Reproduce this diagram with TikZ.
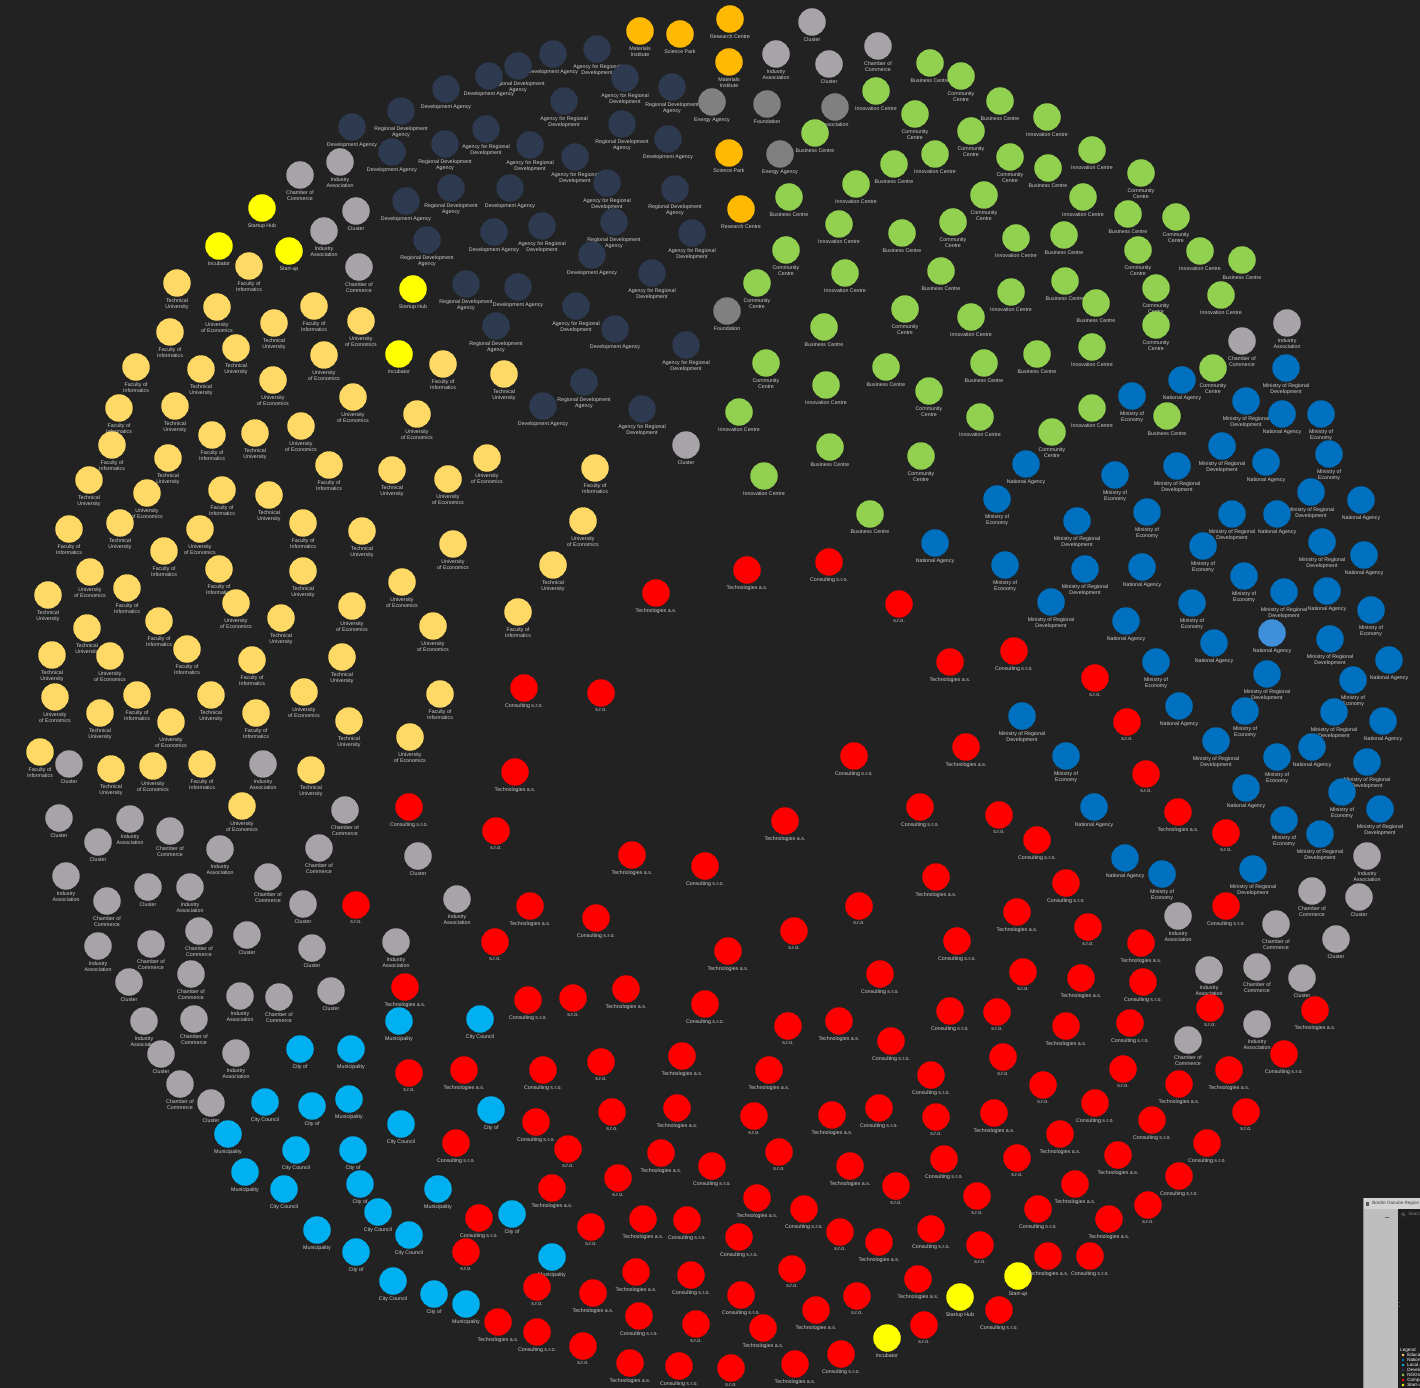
\documentclass[tikz,border=0pt]{standalone}
\usepackage{fontspec}
\setmainfont{Liberation Sans}
\usetikzlibrary{positioning}

\definecolor{canvas}{HTML}{222222}
\definecolor{labelgray}{HTML}{CDCDCD}
\definecolor{eduorange}{HTML}{FFD966}
\definecolor{resgold}{HTML}{FFB900}
\definecolor{startyellow}{HTML}{FFFF00}
\definecolor{devnavy}{HTML}{2E3A50}
\definecolor{ngogreen}{HTML}{92D050}
\definecolor{natblue}{HTML}{0070C0}
\definecolor{selblue}{HTML}{3F8FDA}
\definecolor{localcyan}{HTML}{00B0F0}
\definecolor{compred}{HTML}{FF0000}
\definecolor{othergray}{HTML}{A7A3A9}
\definecolor{darkgray}{HTML}{808080}
\definecolor{panelbar}{HTML}{D2D2D2}
\definecolor{panelside}{HTML}{BEBEBE}
\definecolor{paneldark}{HTML}{1E1E1E}

% one cluster of organisations: prefix, colour, labels (\or-separated), centres
\newcommand\orgcluster[4]{%
  \foreach \x/\y [count=\i] in {#4} {
    \node[orgdot, fill=#2] (#1\i) at (\x,\y) {};
    \pgfmathtruncatemacro{\k}{mod(\i,3)}
    \node[orglabel, below=0.3pt of #1\i] (#1lbl\i) {\ifcase\k #3\fi};
  }%
}

\begin{document}
\begin{tikzpicture}[
        x=0.02cm, y=-0.02cm,
        orgdot/.style={circle, inner sep=0pt, minimum size=0.55cm},
        orglabel/.style={text=labelgray, font=\fontsize{3}{3.4}\selectfont,
            align=center, inner sep=0.4pt},
        paneltext/.style={font=\fontsize{2.6}{3}\selectfont, anchor=west, inner sep=0pt}
    ]
    \useasboundingbox (0,0) rectangle (1420,1388);
    \fill[canvas] (0,0) rectangle (1420,1388);
    \clip (0,0) rectangle (1420,1388);

    % research centres
    \orgcluster{res}{resgold}{Research Centre\or Materials\\Institute\or Science Park}
        {640/31, 680/34, 730/19, 729/62, 729/153, 741/209}

    % start-ups
    \orgcluster{start}{startyellow}{Start-up\or Startup Hub\or Incubator}
        {262/208, 219/246, 289/251, 413/289, 399/354, 1018/1276, 960/1297, 887/1338}

    % development agencies
    \orgcluster{dev}{devnavy}{Regional Development\\Agency\or Development Agency\or Agency for Regional\\Development}
        {553/54, 597/49, 518/66, 489/76, 625/78, 672/87, 446/89, 564/101, 401/111,
         352/127, 486/129, 622/124, 668/139, 530/145, 445/144, 392/152, 575/157,
         451/188, 510/188, 607/183, 675/189, 406/201, 542/226, 614/222, 494/232,
         692/233, 427/240, 592/255, 652/273, 466/284, 518/287, 576/306, 496/326,
         615/329, 686/345, 584/382, 543/406, 642/409}

    % other organisations
    \orgcluster{oth}{othergray}{Chamber of\\Commerce\or Cluster\or Industry\\Association}
        {812/22, 776/54, 878/46, 829/64, 340/162, 300/175, 356/211, 324/231, 359/267,
         686/445, 1287/323, 1242/341,
         69/764, 263/764, 345/810, 59/818, 130/819, 170/831, 98/842, 220/849,
         319/848, 418/856, 66/876, 268/877, 148/887, 190/887, 107/901, 303/904,
         457/899, 199/931, 247/935, 98/946, 151/944, 312/948, 396/942, 191/974,
         129/982, 240/996, 279/997, 331/991, 144/1021, 194/1019, 161/1054,
         236/1053, 180/1084, 211/1103,
         1367/856, 1312/891, 1359/897, 1178/916, 1276/924, 1336/939, 1209/970,
         1257/967, 1302/978, 1257/1024, 1188/1040}

    \orgcluster{assoc}{darkgray}{Association\or Energy Agency\or Foundation}
        {712/102, 767/104, 835/107, 780/154, 727/311}

    % education and research
    \orgcluster{edu}{eduorange}{University\\of Economics\or Faculty of\\Informatics\or Technical\\University}
        {249/266, 177/283, 217/307, 314/306, 274/323, 361/321, 170/332, 236/348,
         324/355, 136/367, 201/369, 273/380, 443/364, 504/374, 353/397, 119/408,
         175/406, 417/414, 212/435, 255/433, 301/426, 112/445, 168/458, 487/458,
         329/465, 392/470, 448/479, 595/468, 89/480, 147/493, 222/490, 269/495,
         583/521, 69/529, 120/523, 200/529, 303/523, 362/531, 453/544, 164/551,
         553/565, 90/572, 219/569, 303/571, 402/582, 127/588, 48/595, 236/603,
         518/612, 281/618, 352/606, 159/621, 87/628, 433/626, 187/649, 52/655,
         110/656, 252/660, 342/657, 55/697, 137/695, 211/695, 304/692, 440/694,
         100/713, 171/722, 256/713, 349/721, 410/737, 40/752, 111/769, 153/766,
         202/764, 311/770, 242/806}

    % NGOs
    \orgcluster{ngo}{ngogreen}{Innovation Centre\or Business Centre\or Community\\Centre}
        {930/63, 961/76, 876/91, 1000/101, 915/114, 1047/117, 815/133, 971/131,
         935/154, 894/164, 1010/157, 1092/150, 1048/168, 1141/173, 856/184, 789/197,
         984/195, 1083/197, 1128/214, 1176/217, 839/224, 902/233, 953/222, 1016/238,
         1064/235, 1138/250, 1200/251, 1242/260, 786/250, 845/273, 941/271, 757/283,
         1011/292, 1065/281, 1156/288, 1221/295, 1096/303, 905/309, 971/317, 824/327,
         1156/325, 1092/347, 1037/354, 766/363, 826/385, 886/367, 929/391, 739/412,
         984/363, 1213/368, 1092/408, 1167/416, 1052/432, 980/417, 830/447, 921/456,
         764/476, 870/514}

    % national public authorities
    \orgcluster{nat}{natblue}{Ministry of\\Economy\or Ministry of Regional\\Development\or National Agency}
        {1286/368, 1182/380, 1132/396, 1246/401, 1282/414, 1321/414, 1222/446,
         1266/462, 1329/454, 1177/466, 1026/464, 1115/475, 1311/492, 1361/500,
         997/499, 1232/514, 1277/514, 1147/512, 1077/521, 935/543, 1203/546,
         1322/542, 1364/555, 1005/565, 1085/569, 1142/567, 1244/576, 1284/592,
         1327/591, 1371/610, 1051/602, 1126/621, 1192/603, 1330/639, 1214/643,
         1156/662, 1267/674, 1389/660, 1353/680, 1022/716, 1179/706, 1245/711,
         1334/712, 1383/721, 1066/756, 1216/741, 1312/747, 1277/757, 1367/762,
         1246/788, 1342/792, 1380/809, 1094/807, 1284/820, 1320/834, 1125/858,
         1162/874, 1253/869}
    \node[orgdot, fill=selblue] (natsel) at (1272,633) {};
    \node[orglabel, below=0.3pt of natsel] (natsellbl) {National Agency};

    % local public authorities
    \orgcluster{loc}{localcyan}{City of\or Municipality\or City Council}
        {399/1021, 480/1019, 300/1049, 351/1049, 265/1102, 312/1106, 349/1099,
         401/1124, 491/1110, 228/1134, 296/1150, 353/1150, 245/1172, 284/1189,
         360/1184, 438/1189, 378/1212, 512/1214, 317/1230, 409/1235, 356/1252,
         552/1257, 393/1281, 434/1294, 466/1304}

    % companies
    \orgcluster{comp}{compred}{s.r.o.\or Technologies a.s.\or Consulting s.r.o.}
        {747/570, 829/562, 899/604, 950/662, 1014/651, 1095/678, 656/593, 524/688,
         601/693, 515/772, 409/807, 496/831, 632/855, 705/866, 356/905, 530/906,
         596/918, 495/942, 405/987, 528/1000, 573/998, 626/989, 705/1004,
         1127/722, 966/747, 854/756, 1146/774, 1178/812, 920/807, 999/815, 785/821,
         1037/840, 1226/833, 936/877, 1066/883, 859/906, 1017/912, 1226/906,
         794/931, 728/951, 957/941, 1088/927, 1141/943, 880/974, 1023/972,
         1081/978, 1143/982, 1210/1008, 1315/1010, 950/1011, 997/1012, 1066/1026,
         1130/1023, 788/1026, 839/1021, 891/1041,
         409/1073, 464/1070, 543/1070, 601/1062, 682/1056, 536/1122, 612/1112,
         677/1108, 456/1143, 568/1149, 661/1153, 712/1166, 618/1178, 552/1188,
         479/1218, 591/1227, 643/1219, 687/1220, 466/1252, 636/1272, 691/1275,
         537/1287, 593/1293, 639/1316, 696/1324, 498/1322, 537/1332, 583/1346,
         630/1363, 679/1366,
         1003/1057, 769/1070, 931/1075, 1123/1069, 1229/1070, 1284/1054,
         1043/1085, 1179/1084, 1095/1103, 754/1116, 832/1115, 879/1108, 936/1117,
         994/1113, 1152/1120, 1246/1112, 1060/1134, 1207/1143, 779/1152, 850/1166,
         944/1159, 1017/1158, 1118/1155, 1179/1176, 896/1186, 757/1198, 804/1209,
         977/1196, 1075/1184, 1038/1209, 1148/1205, 1109/1219, 739/1237, 840/1232,
         879/1242, 931/1229, 980/1245, 1048/1256, 1090/1256, 792/1269, 918/1279,
         741/1295, 857/1296, 816/1310, 999/1310, 924/1325, 763/1328, 841/1354,
         731/1368, 795/1364}

    % side panel, cut by the edge
    \fill[panelside] (1363,1198) rectangle (1420,1388);
    \fill[panelbar] (1363,1198) rectangle (1420,1209);
    \fill[paneldark] (1398,1209) rectangle (1420,1388);
    \draw[black!45, line width=0.2pt] (1363,1198) -- (1363,1388);
    \fill[black!65] (1366,1201.5) rectangle (1369,1205.5);
    \node[paneltext, text=black!75] (ptitle) at (1372,1203.5) {Border Danube Region};
    \draw[black!60, line width=0.3pt] (1385,1217) -- (1389,1217);
    \draw[gray, line width=0.2pt] (1403,1214) circle (1.3) (1404,1215) -- (1405.5,1216.5);
    \node[paneltext, text=gray] (psearch) at (1408,1214) {Search};
    \draw[black!60, line width=0.3pt, dotted] (1399.5,1302) -- (1399.5,1308);
    \node[paneltext, text=white!80] (plegend) at (1400,1350) {Legend};
    \foreach \c/\t [count=\j] in {eduorange/Educational institutions,
            natblue/National public authorities, localcyan/Local public authorities,
            devnavy/Development agencies, ngogreen/NGOs, compred/Companies,
            startyellow/Start-ups} {
        \fill[\c] (1403,1350+5*\j) circle (1.4);
        \node[paneltext, text=white!75] (leg\j) at (1407,1350+5*\j) {\t};
    }
\end{tikzpicture}
\end{document}
